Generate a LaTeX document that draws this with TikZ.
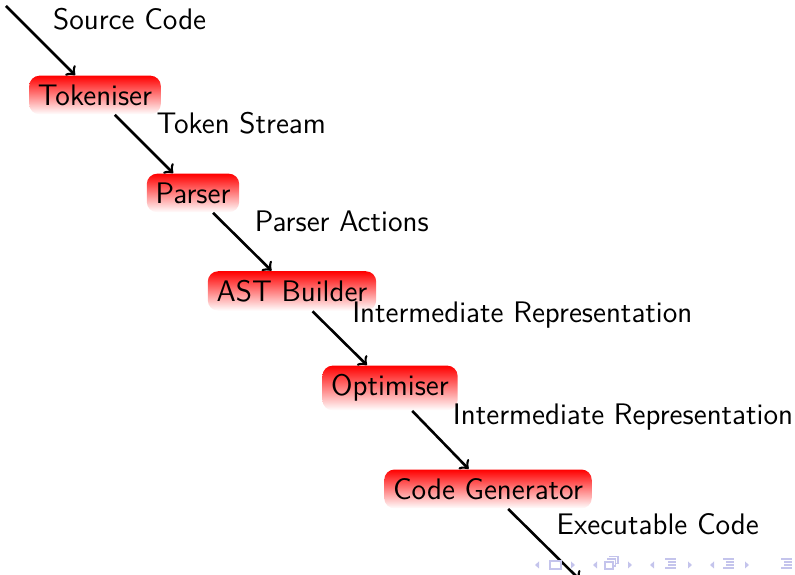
\documentclass[tikz,border=0pt]{standalone}
\usepackage{tikz}
\definecolor{navcol}{RGB}{196,196,236}
\tikzset{
  stage/.style={rounded corners=4pt, top color=red, bottom color=white, draw=none,
    inner sep=3.4pt, font=\sffamily\fontsize{11.45}{13.5}\selectfont},
  flow/.style={->, line width=1pt, black},
  lbl/.style={above right, xshift=1pt, font=\sffamily\fontsize{11.45}{13.5}\selectfont},
  navtri/.style={fill=navcol, draw=none},
  navline/.style={draw=navcol, line width=0.7pt}
}
\begin{document}
\begin{tikzpicture}[x=0.385pt, y=-0.385pt]
\useasboundingbox (0,0) rectangle (795,575);
\coordinate (src) at (6,6);
\node[stage] (tok) at (95,95) {Tokeniser};
\node[stage] (par) at (193,193) {Parser};
\node[stage] (ast) at (292,291) {AST Builder};
\node[stage] (opt) at (390,388) {Optimiser};
\node[stage] (gen) at (488,489) {Code Generator};
\coordinate (out) at (580,580);
\draw[flow] (src) -- node[lbl] {Source Code} (tok);
\draw[flow] (tok) -- node[lbl] {Token Stream} (par);
\draw[flow] (par) -- node[lbl] {Parser Actions} (ast);
\draw[flow] (ast) -- node[lbl] {Intermediate Representation} (opt);
\draw[flow] (opt) -- node[lbl] {Intermediate Representation} (gen);
\draw[flow] (gen) -- node[lbl] {Executable Code} (out);
% navigation symbols
\foreach \x in {537,595,652,712} {\fill[navtri] (\x+2,561.5) -- (\x-2,565) -- (\x+2,568.5) -- cycle;}
\foreach \x in {573,630,690,747} {\fill[navtri] (\x-2,561.5) -- (\x+2,565) -- (\x-2,568.5) -- cycle;}
\draw[navline] (550,561) rectangle (561,569);
\draw[navline] (605,562) rectangle (613,569);
\draw[navline] (607.5,560) -- (607.5,559) -- (615.5,559) -- (615.5,566) -- (613,566);
\draw[navline] (610,557.5) -- (610,556.5) -- (618,556.5) -- (618,563.5) -- (615.5,563.5);
\foreach \x in {665,723,781} {
  \draw[navline] (\x,559) -- (\x+11,559);
  \draw[navline] (\x+3,562) -- (\x+11,562);
  \draw[navline] (\x+3,565) -- (\x+11,565);
  \draw[navline] (\x,568) -- (\x+11,568);
}
\end{tikzpicture}
\end{document}
